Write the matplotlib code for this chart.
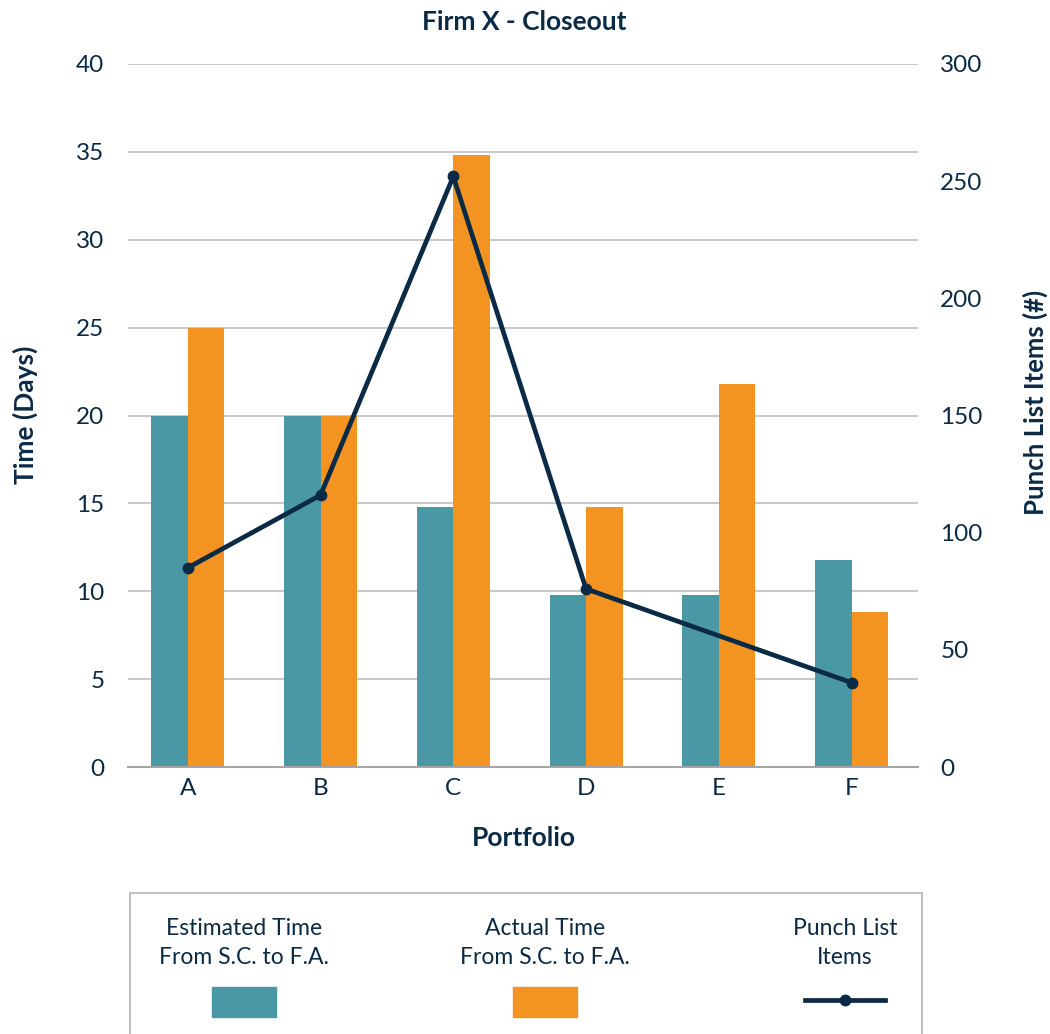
import numpy as np
import matplotlib
matplotlib.use("Agg")
import matplotlib.pyplot as plt
from matplotlib.patches import Rectangle
from matplotlib.lines import Line2D

plt.rcParams['font.family'] = ['Lato', 'DejaVu Sans']

portfolios = ['A', 'B', 'C', 'D', 'E', 'F']
estimated = [20, 20, 14.8, 9.8, 9.8, 11.8]
actual = [25, 20, 34.8, 14.8, 21.8, 8.8]
punch = [85, 116, 252, 76, np.nan, 36]   # no value for E, line joins D to F

teal = '#4a97a5'
orange = '#f39322'
navy = '#0b2a45'
grid = '#bfbfbf'

fig = plt.figure(figsize=(10.5, 10.34), dpi=100)
ax = fig.add_axes([128 / 1050, 1 - 767 / 1034, 790 / 1050, 703 / 1034])
ax2 = ax.twinx()

x = np.arange(len(portfolios))
w = 0.275
ax.bar(x - w / 2, estimated, w, color=teal, zorder=2)
ax.bar(x + w / 2, actual, w, color=orange, zorder=2)

ax.set_ylim(0, 40)
ax.set_yticks(range(0, 41, 5))
ax.set_xlim(-0.45, len(portfolios) - 0.5)
ax.set_xticks(x)
ax.set_xticklabels(portfolios)
ax.yaxis.grid(True, color=grid, linewidth=1.2, zorder=0)
ax.set_axisbelow(True)
for s in ['top', 'left', 'right']:
    ax.spines[s].set_visible(False)
ax.spines['bottom'].set_color('#a6a6a6')
ax.spines['bottom'].set_linewidth(1.5)
ax.tick_params(axis='both', length=0, labelsize=17.5, labelcolor=navy)
ax.tick_params(axis='y', pad=17)
ax.tick_params(axis='x', pad=8)

p = np.array(punch, dtype=float)
ok = ~np.isnan(p)
ax2.plot(x[ok], p[ok], color=navy, linewidth=3.4, marker='o', markersize=7.5, zorder=3)
ax2.set_ylim(0, 300)
ax2.set_yticks(range(0, 301, 50))
for s in ax2.spines.values():
    s.set_visible(False)
ax2.tick_params(axis='y', length=0, labelsize=17.5, labelcolor=navy, pad=16)

fig.text(524 / 1050, 1 - 22 / 1034, 'Firm X - Closeout', ha='center', va='center',
         fontsize=19, fontweight='bold', color=navy)
fig.text(25 / 1050, 1 - 415 / 1034, 'Time (Days)', rotation=90, ha='center', va='center',
         fontsize=19, fontweight='bold', color=navy)
fig.text(1035 / 1050, 1 - 402 / 1034, 'Punch List Items (#)', rotation=90, ha='center',
         va='center', fontsize=18.5, fontweight='bold', color=navy)
fig.text(524 / 1050, 1 - 838 / 1034, 'Portfolio', ha='center', va='center',
         fontsize=19, fontweight='bold', color=navy)

# legend box, labels above their keys
fig.patches.append(Rectangle((130 / 1050, -0.05), 792 / 1050, 0.05 + 1 - 893 / 1034,
                             transform=fig.transFigure, facecolor='white',
                             edgecolor='#bfbfbf', linewidth=1.5))
labels = ['Estimated Time\nFrom S.C. to F.A.', 'Actual Time\nFrom S.C. to F.A.',
          'Punch List\nItems']
centers = [244, 545, 845]
for lab, cx in zip(labels, centers):
    fig.text(cx / 1050, 1 - 943 / 1034, lab, ha='center', va='center', fontsize=16.5,
             color=navy, linespacing=1.45)
for col, cx in zip([teal, orange], centers[:2]):
    fig.patches.append(Rectangle(((cx - 32) / 1050, 1 - 1017 / 1034), 64 / 1050, 30 / 1034,
                                 transform=fig.transFigure, color=col))
fig.lines.append(Line2D([805 / 1050, 885 / 1050], [1 - 1000 / 1034] * 2,
                        transform=fig.transFigure, color=navy, linewidth=3.4))
fig.lines.append(Line2D([845 / 1050], [1 - 1000 / 1034], transform=fig.transFigure,
                        color=navy, marker='o', markersize=7.5, linestyle='none'))

fig.savefig('out.png', dpi=100)
